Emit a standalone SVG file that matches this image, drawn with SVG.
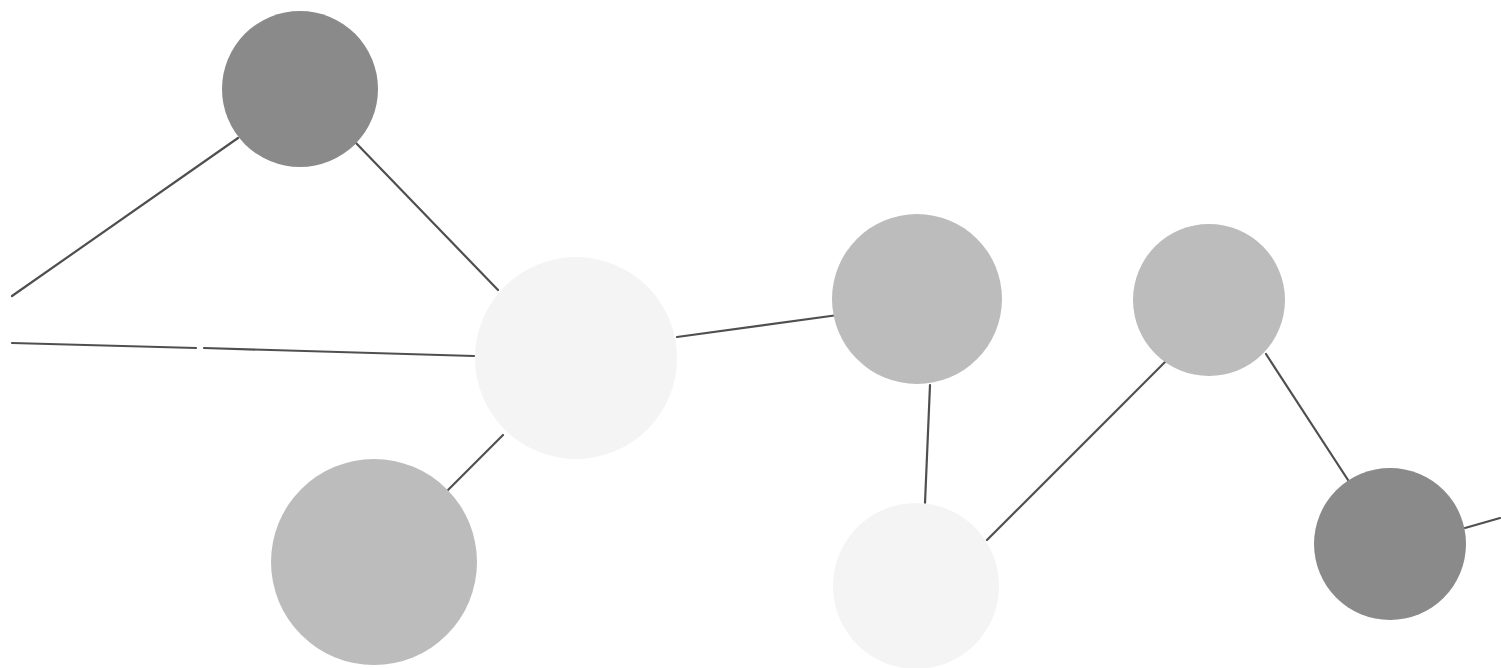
<svg xmlns="http://www.w3.org/2000/svg" width="1501" height="668" viewBox="0 0 1501 668">
<style>
.e{stroke:#4f4f4f;stroke-width:2.2;fill:none;stroke-linecap:round}
.dark{fill:#8a8a8a}
.mid{fill:#bcbcbc}
.light{fill:#f4f4f4}
</style>
<rect width="1501" height="668" fill="#ffffff"/>
<g id="connectors">
<line class="e" x1="12" y1="296" x2="238" y2="138"/>
<line class="e" x1="356" y1="143" x2="498" y2="290"/>
<line class="e" x1="12" y1="343" x2="196" y2="348"/>
<line class="e" x1="204" y1="348" x2="474" y2="356"/>
<line class="e" x1="677" y1="337" x2="838" y2="315"/>
<line class="e" x1="446" y1="492" x2="503" y2="435"/>
<line class="e" x1="930" y1="385" x2="925" y2="503"/>
<line class="e" x1="987" y1="540" x2="1166" y2="361"/>
<line class="e" x1="1266" y1="354" x2="1348" y2="480"/>
<line class="e" x1="1465" y1="528" x2="1500" y2="518"/>
</g>
<g id="n1"><circle class="dark" cx="300" cy="89" r="78"/></g>
<g id="n2"><circle class="light" cx="576" cy="358" r="101"/></g>
<g id="n3"><circle class="mid" cx="374" cy="562" r="103"/></g>
<g id="n4"><circle class="mid" cx="917" cy="299" r="85"/></g>
<g id="n5"><circle class="light" cx="916" cy="586" r="83"/></g>
<g id="n6"><circle class="mid" cx="1209" cy="300" r="76"/></g>
<g id="n7"><circle class="dark" cx="1390" cy="544" r="76"/></g>
</svg>
